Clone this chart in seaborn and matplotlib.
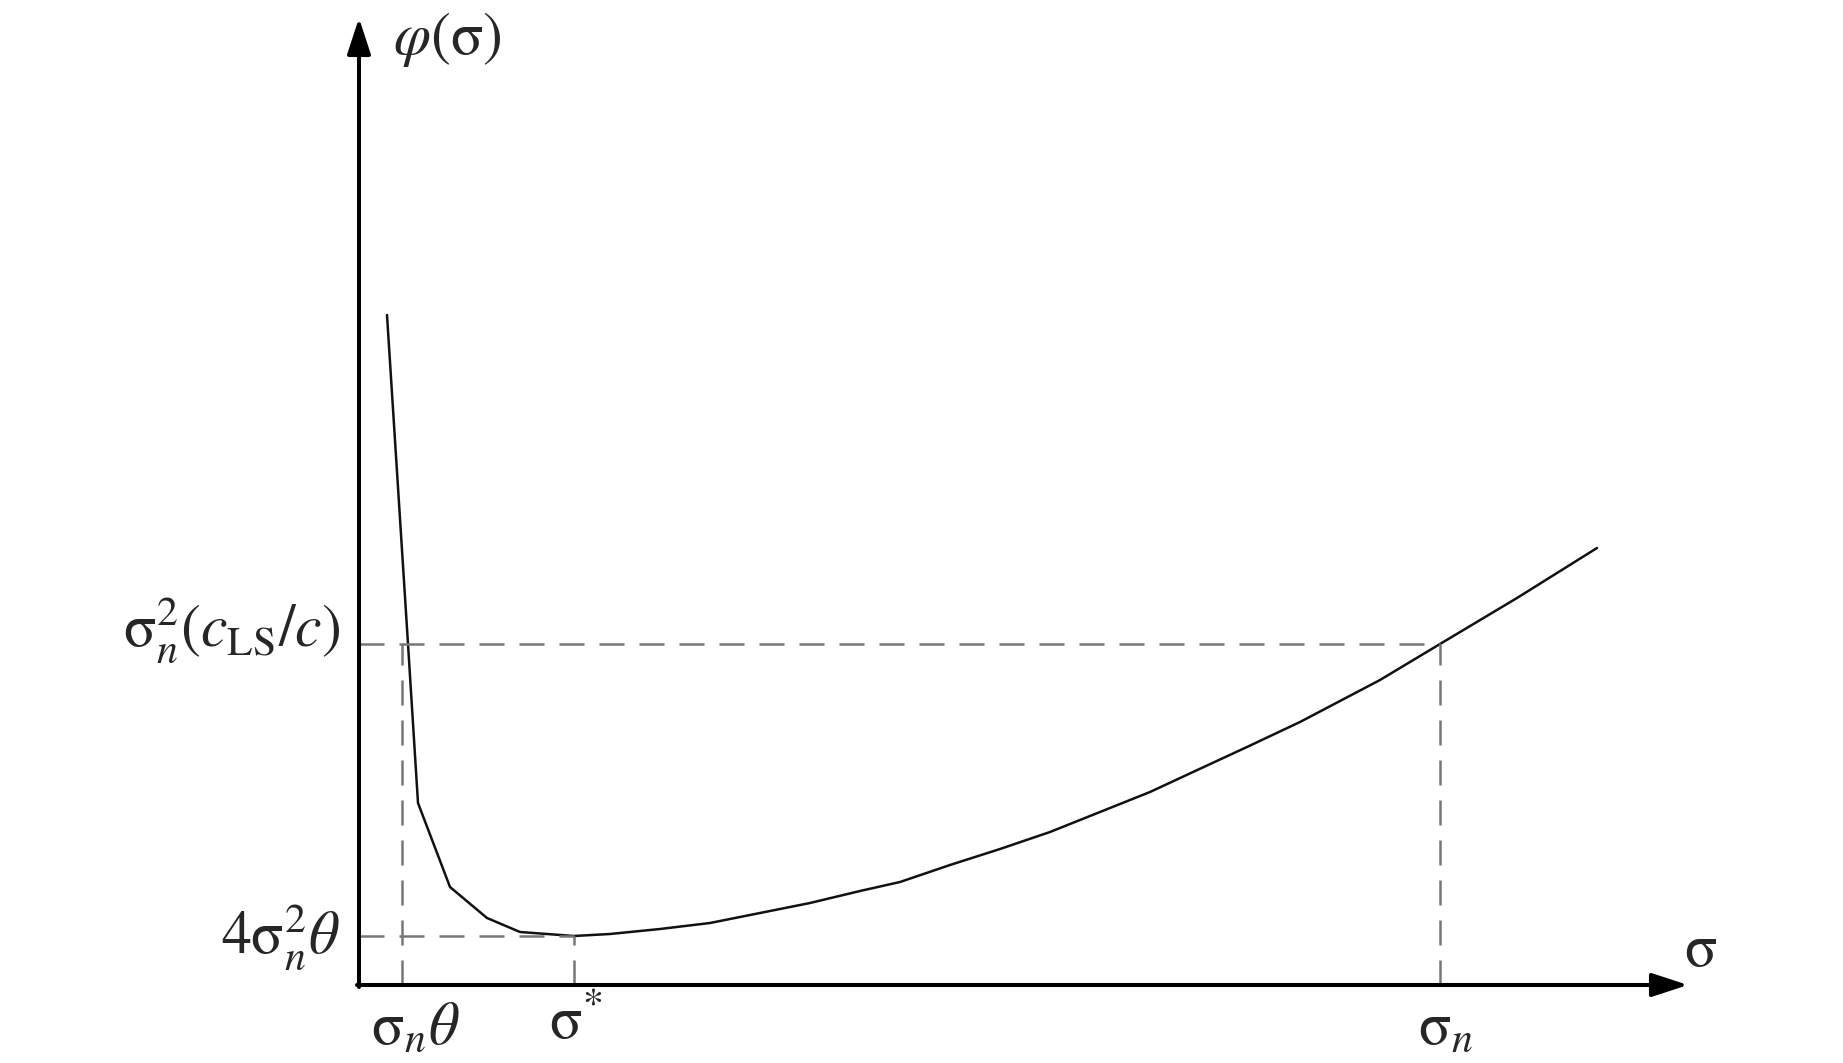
import numpy as np
import pandas as pd
import matplotlib
matplotlib.use("Agg")
import matplotlib.pyplot as plt
import seaborn as sns

# curve phi(sigma) (arbitrary units)
sigma = [0.28, 0.49, 0.59, 0.91, 1.28, 1.61, 2.15, 2.51, 3.01, 3.51,
         4.01, 4.51, 5.01, 5.41, 5.91, 6.41, 6.91, 7.41, 7.91, 8.34,
         8.88, 9.41, 10.21, 10.81, 11.58, 12.38]
phi = [6.70, 3.41, 1.82, 0.98, 0.67, 0.53, 0.49, 0.51, 0.56, 0.62,
       0.72, 0.82, 0.94, 1.03, 1.20, 1.36, 1.53, 1.73, 1.93, 2.13,
       2.38, 2.63, 3.05, 3.41, 3.87, 4.37]

# marked positions
sigma_theta = 0.43
sigma_star = 2.15
sigma_n = 10.81
phi_ls = 3.41
phi_min = 0.49

S = r"\mathrm{σ}"
x_ticklabels = [rf"${S}_n\theta$", rf"${S}^{{*}}$", rf"${S}_n$"]
y_ticklabels = [rf"${S}_n^2(c_{{\mathrm{{LS}}}}/c)$", rf"$4{S}_n^2\theta$"]

x_end = 13.29
y_end = 9.67

sns.set_style("white")
plt.rcParams["mathtext.fontset"] = "stix"
plt.rcParams["font.family"] = ["STIXGeneral", "Liberation Serif", "DejaVu Serif"]

fig = plt.figure(figsize=(18.43, 10.63), dpi=100)
ax = fig.add_axes([0, 0, 1, 1])
ax.set_xlim(-3.59, 14.84)
ax.set_ylim(-0.78, 9.85)
ax.axis("off")

df = pd.DataFrame({"sigma": sigma, "phi": phi})
sns.lineplot(data=df, x="sigma", y="phi", color="#111111", lw=1.8,
             sort=False, ax=ax)

dash = dict(color="#777777", lw=1.8, ls=(0, (10, 6)))
ax.plot([0, sigma_n], [phi_ls, phi_ls], **dash)
ax.plot([0, sigma_star], [phi_min, phi_min], **dash)
ax.plot([sigma_theta, sigma_theta], [0, phi_ls], **dash)
ax.plot([sigma_star, sigma_star], [0, phi_min], **dash)
ax.plot([sigma_n, sigma_n], [0, phi_ls], **dash)

# axes with arrows
arrow = dict(arrowstyle="-|>,head_length=1.1,head_width=0.36", lw=2.9,
             color="black", mutation_scale=20, shrinkA=0, shrinkB=0)
ax.annotate("", xy=(x_end, 0), xytext=(-0.02, 0), arrowprops=arrow)
ax.annotate("", xy=(0, y_end), xytext=(0, -0.02), arrowprops=arrow)

fs = 43
ax.text(0.34, 9.45, rf"$\varphi({S})$", fontsize=fs, ha="left", va="center")
ax.text(13.41, 0.33, rf"${S}$", fontsize=fs, ha="center", va="center")

for xv, lab, dy in zip([0.56, 2.17, 10.87], x_ticklabels, [-0.45, -0.38, -0.45]):
    ax.text(xv, dy, lab, fontsize=fs, ha="center", va="center")

for yv, lab in zip([3.55, 0.48], y_ticklabels):
    ax.text(-0.19, yv, lab, fontsize=fs, ha="right", va="center")

plt.savefig("out.png", dpi=100)
plt.close(fig)
